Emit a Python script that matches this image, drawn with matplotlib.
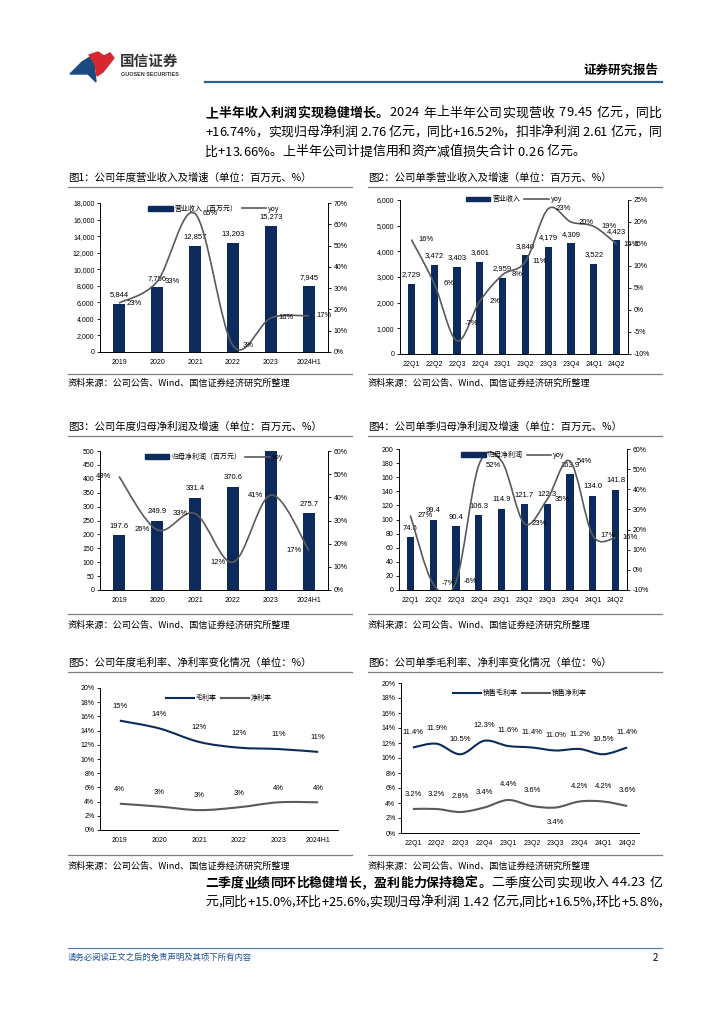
import matplotlib
matplotlib.use('Agg')
import matplotlib.pyplot as plt
from matplotlib.path import Path
from matplotlib.patches import PathPatch, Polygon, Patch
from matplotlib.lines import Line2D
from matplotlib.ticker import FuncFormatter, MultipleLocator

plt.rcParams['font.family'] = ['Noto Sans CJK SC', 'DejaVu Sans']

W, H = 724, 1024
NAVY = '#0c2b5c'
GRAY = '#5a5a5a'
NUMF = ['Liberation Sans', 'DejaVu Sans']

# ---- data ----
years = ['2019', '2020', '2021', '2022', '2023', '2024H1']
quarters = ['22Q1', '22Q2', '22Q3', '22Q4', '23Q1', '23Q2', '23Q3', '23Q4', '24Q1', '24Q2']

rev_year = [5844, 7796, 12857, 13203, 15273, 7945]
rev_year_yoy = [23, 33, 65, 3, 16, 17]
rev_q = [2729, 3472, 3403, 3601, 2959, 3840, 4179, 4309, 3522, 4423]
rev_q_yoy = [16, 6, -7, 2, 8, 11, 23, 20, 19, 15]
np_year = [197.6, 249.9, 331.4, 370.6, 522.5, 275.7]
np_year_yoy = [49, 26, 33, 12, 41, 17]
np_q = [74.6, 99.4, 90.4, 106.3, 114.9, 121.7, 122.3, 163.9, 134.0, 141.8]
np_q_yoy = [27, -7, -6, 52, 54, 23, 35, 54, 17, 16]
gm_year = [15.4, 14.3, 12.4, 11.6, 11.4, 11.0]
nm_year = [3.7, 3.3, 2.8, 3.2, 3.9, 3.9]
gm_q = [11.4, 11.9, 10.5, 12.3, 11.6, 11.4, 11.0, 11.2, 10.5, 11.4]
nm_q = [3.2, 3.2, 2.8, 3.4, 4.4, 3.6, 3.4, 4.2, 4.2, 3.6]

titles = ['图1：公司年度营业收入及增速（单位：百万元、%）',
          '图2：公司单季营业收入及增速（单位：百万元、%）',
          '图3：公司年度归母净利润及增速（单位：百万元、%）',
          '图4：公司单季归母净利润及增速（单位：百万元、%）',
          '图5：公司年度毛利率、净利率变化情况（单位：%）',
          '图6：公司单季毛利率、净利率变化情况（单位：%）']
source = '资料来源：公司公告、Wind、国信证券经济研究所整理'

para1 = [[('上半年收入利润实现稳健增长。', True), ('2024 年上半年公司实现营收 79.45 亿元，同比', False)],
         [('+16.74%，实现归母净利润 2.76 亿元，同比+16.52%，扣非净利润 2.61 亿元，同', False)],
         [('比+13.66%。上半年公司计提信用和资产减值损失合计 0.26 亿元。', False)]]
para2 = [[('二季度业绩同环比稳健增长，盈利能力保持稳定。', True), ('二季度公司实现收入 44.23 亿', False)],
         [('元,同比+15.0%,环比+25.6%,实现归母净利润 1.42 亿元,同比+16.5%,环比+5.8%,', False)]]


def rect(l, t, r, b):
    return [l / W, 1 - b / H, (r - l) / W, (b - t) / H]


def smooth_path(xs, ys):
    pts = list(zip(xs, ys))
    n = len(pts)
    verts, codes = [pts[0]], [Path.MOVETO]
    for i in range(n - 1):
        p0, p1 = pts[max(i - 1, 0)], pts[i]
        p2, p3 = pts[i + 1], pts[min(i + 2, n - 1)]
        c1 = (p1[0] + (p2[0] - p0[0]) / 6, p1[1] + (p2[1] - p0[1]) / 6)
        c2 = (p2[0] - (p3[0] - p1[0]) / 6, p2[1] - (p3[1] - p1[1]) / 6)
        verts += [c1, c2, p2]
        codes += [Path.CURVE4] * 3
    return Path(verts, codes)


fig = plt.figure(figsize=(W / 100, H / 100), dpi=100)
bg = fig.add_axes([0, 0, 1, 1])
bg.set_xlim(0, W)
bg.set_ylim(H, 0)
bg.axis('off')
renderer = fig.canvas.get_renderer()

# ---- page furniture ----
bg.add_patch(Polygon([(70, 74), (82, 62), (90, 57), (94, 63), (96, 82), (88, 74)], color='#1b4a80'))
bg.add_patch(Polygon([(89, 55), (98, 52), (104, 56), (110, 53), (114, 58), (103, 72), (97, 76), (95, 64)],
                     color='#d7272f'))
bg.text(120, 61, '国信证券', fontsize=10.5, fontweight='bold', color='#333333', va='center')
bg.text(121, 74.5, 'GUOSEN SECURITIES', fontsize=3.9, fontweight='bold', color='#333333', va='center',
        family=NUMF)
bg.text(658, 70, '证券研究报告', fontsize=9, fontweight='bold', ha='right', va='center')
bg.plot([205, 662], [82, 82], color='#2f5f8f', lw=1.6)
bg.plot([68, 662], [948, 948], color='#4a7ab0', lw=0.8)
bg.text(68, 957, '请务必阅读正文之后的免责声明及其项下所有内容', fontsize=6, color='#1f4e99',
        style='italic', va='center')
bg.text(658, 958, '2', fontsize=7, ha='right', va='center')

_cache = {}


def char_w(c, bold, size):
    if c == ' ':
        return 0.3 * size * 100 / 72
    key = (c, bold, size)
    if key not in _cache:
        t = bg.text(0, 0, c, fontsize=size, fontweight='bold' if bold else 'normal')
        _cache[key] = t.get_window_extent(renderer).width
        t.remove()
    return _cache[key]


def put_line(x0, y, parts, size, x1=None):
    chars = [(c, b) for txt, b in parts for c in txt]
    widths = [char_w(c, b, size) for c, b in chars]
    gap = 0 if x1 is None else (x1 - x0 - sum(widths)) / (len(chars) - 1)
    x = x0
    for (c, b), w in zip(chars, widths):
        if c != ' ':
            bg.text(x, y, c, fontsize=size, fontweight='bold' if b else 'normal', va='center', ha='left')
        x += w + gap


for k, line in enumerate(para1):
    put_line(205, 113 + k * 19.5, line, 9.3, 662 if k < len(para1) - 1 else None)
for k, line in enumerate(para2):
    put_line(205, 883 + k * 19.5, line, 9.3, 662)

# titles, rules, sources
blocks = [(178, 187, 374, 383), (427, 436, 614, 625), (663, 672, 855, 866)]
for row, (ty, uy, sy, cy) in enumerate(blocks):
    for col, (xl, xr) in enumerate([(68, 352), (368, 662)]):
        bg.text(xl, ty, titles[row * 2 + col], fontsize=7.5, va='center')
        bg.plot([xl, xr], [uy, uy], color='#7f7f7f', lw=0.9)
        bg.plot([xl, xr], [sy, sy], color='#7f7f7f', lw=0.9)
        bg.text(xl, cy, source, fontsize=6.6, va='center')


def base_axes(box, cats):
    ax = fig.add_axes(rect(*box))
    ax.patch.set_alpha(0)
    ax.set_xlim(-0.5, len(cats) - 0.5)
    ax.set_xticks(range(len(cats)))
    ax.set_xticklabels(cats, family=NUMF, fontsize=5)
    ax.tick_params(axis='x', length=0, pad=5)
    ax.tick_params(axis='y', length=2.5, width=0.6, labelsize=5, pad=1.5)
    ax.spines['top'].set_visible(False)
    ax.spines['right'].set_visible(False)
    for s in ['left', 'bottom']:
        ax.spines[s].set_linewidth(0.7)
    return ax


def bar_line(box, cats, bars, yoy, lmax, lstep, rmin, rmax, rstep, labels, bar_fmt, dx, width,
             skip=(), dy=None, leg_y=1.03):
    ax = base_axes(box, cats)
    xs = list(range(len(cats)))
    ax.bar(xs, bars, width=width, color=NAVY, zorder=2)
    ax.set_ylim(0, lmax)
    ax.yaxis.set_major_locator(MultipleLocator(lstep))
    ax.yaxis.set_major_formatter(FuncFormatter(lambda v, p: f'{v:,.0f}'))
    for lab in ax.get_yticklabels():
        lab.set_family(NUMF)
    for i, v in enumerate(bars):
        ax.annotate(bar_fmt(v), (i, v), xytext=(0, 4), textcoords='offset points',
                    ha='center', va='bottom', fontsize=5.5, family=NUMF)
    ax2 = ax.twinx()
    ax2.patch.set_alpha(0)
    ax2.set_ylim(rmin, rmax)
    ax2.yaxis.set_major_locator(MultipleLocator(rstep))
    ax2.yaxis.set_major_formatter(FuncFormatter(lambda v, p: f'{v:.0f}%'))
    ax2.tick_params(axis='y', length=2.5, width=0.6, labelsize=5, pad=1.5)
    for lab in ax2.get_yticklabels():
        lab.set_family(NUMF)
    for s in ['top', 'left', 'bottom']:
        ax2.spines[s].set_visible(False)
    ax2.spines['right'].set_linewidth(0.7)
    ax2.add_patch(PathPatch(smooth_path(xs, yoy), fill=False, ec=GRAY, lw=1.2))
    for i, v in enumerate(yoy):
        if i in skip:
            continue
        off = dy[i] if dy else 0
        ax2.text(i + dx, v + off, f'{v}%', fontsize=5.5, ha='center', va='center', family=NUMF)
    ax2.legend(handles=[Patch(color=NAVY), Line2D([], [], color=GRAY, lw=1.2)], labels=labels,
               ncol=2, loc='upper center', bbox_to_anchor=(0.5, leg_y), frameon=False, fontsize=5,
               handlelength=3.5, handleheight=0.7, columnspacing=0.6, handletextpad=0.3)
    return ax, ax2


bar_line((100, 203, 328, 352), years, rev_year, rev_year_yoy, 18000, 2000, 0, 70, 10,
         ['营业收入（百万元）', 'yoy'], lambda v: f'{v:,.0f}', 0.4, 0.3)
bar_line((400, 200, 628, 354), quarters, rev_q, rev_q_yoy, 6000, 1000, -10, 25, 5,
         ['营业收入', 'yoy'], lambda v: f'{v:,.0f}', 0.65, 0.32,
         dy=[0, 0, 4, 0, 0, 0, 0, 0, 0, 0], leg_y=1.07)
bar_line((100, 451, 328, 590), years, np_year, np_year_yoy, 500, 50, 0, 60, 10,
         ['归母净利润（百万元）', 'yoy'], lambda v: f'{v:.1f}', -0.4, 0.3)
bar_line((399, 449, 627, 590), quarters, np_q, np_q_yoy, 200, 20, -10, 60, 10,
         ['归母净利润', 'yoy'], lambda v: f'{v:.1f}', 0.65, 0.32, skip=(4,))


def margin_chart(box, cats, gm, nm, labels, fmt, below=()):
    ax = base_axes(box, cats)
    xs = list(range(len(cats)))
    ax.set_ylim(0, 20)
    ax.yaxis.set_major_locator(MultipleLocator(2))
    ax.yaxis.set_major_formatter(FuncFormatter(lambda v, p: f'{v:.0f}%'))
    for lab in ax.get_yticklabels():
        lab.set_family(NUMF)
    ax.add_patch(PathPatch(smooth_path(xs, gm), fill=False, ec=NAVY, lw=1.5))
    ax.add_patch(PathPatch(smooth_path(xs, nm), fill=False, ec=GRAY, lw=1.5))
    for i, v in enumerate(gm):
        ax.text(i, v + 2, fmt(v), fontsize=5.5, ha='center', va='center', family=NUMF)
    for i, v in enumerate(nm):
        ax.text(i, v - 2 if i in below else v + 2, fmt(v), fontsize=5.5, ha='center', va='center',
                family=NUMF)
    ax.legend(handles=[Line2D([], [], color=NAVY, lw=1.5), Line2D([], [], color=GRAY, lw=1.5)],
              labels=labels, ncol=2, loc='upper center', bbox_to_anchor=(0.5, 1.0), frameon=False,
              fontsize=5, handlelength=4, columnspacing=0.6, handletextpad=0.3)


margin_chart((100, 688, 338, 830), years, gm_year, nm_year, ['毛利率', '净利率'],
             lambda v: f'{v:.0f}%')
margin_chart((401, 683, 639, 833), quarters, gm_q, nm_q, ['销售毛利率', '销售净利率'],
             lambda v: f'{v:.1f}%', below=(6,))

fig.savefig('out.png', dpi=100)
